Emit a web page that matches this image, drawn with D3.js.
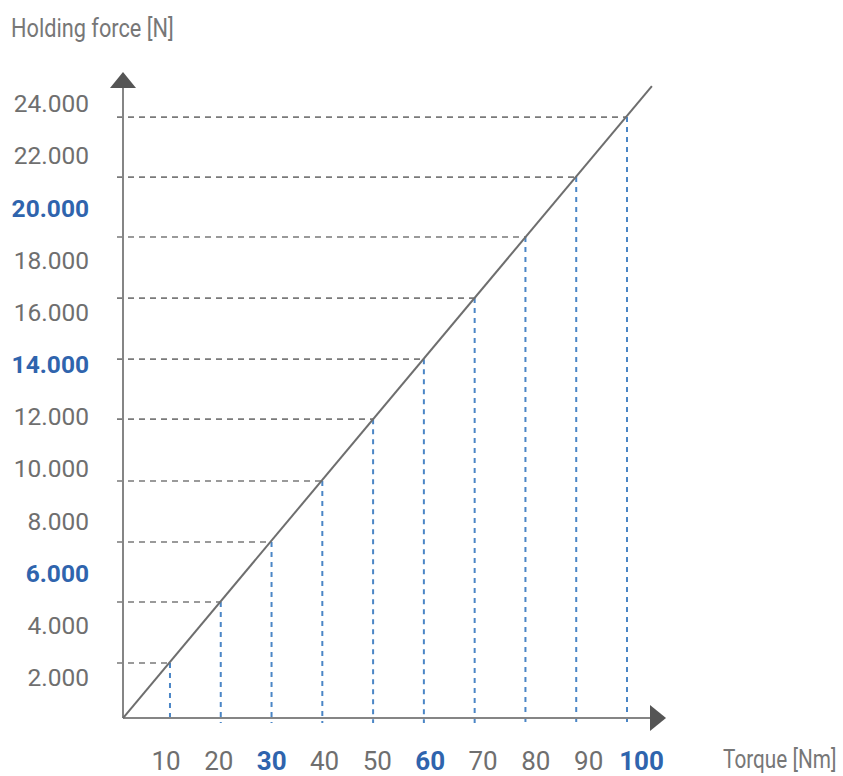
<!DOCTYPE html>
<html>
<head>
<meta charset="utf-8">
<script src="https://cdn.jsdelivr.net/npm/d3@7"></script>
<style>
  html, body { margin: 0; padding: 0; background: #fff; }
  text { font-family: Roboto, 'Noto Sans', sans-serif; }
</style>
</head>
<body>
<div id="container"></div>
<script>
'use strict';

const w = 843;
const h = 776;

// Data.
const torque = [10, 20, 30, 40, 50, 60, 70, 80, 90, 100];
const force = [2530, 4870, 7170, 9510, 11880, 14180, 16520, 18860, 21160, 23460];
const trendTorque = [0.75, 104.9];
const trendForce = [420, 24650];
const forceTicks = [2000, 4000, 6000, 8000, 10000, 12000, 14000, 16000, 18000, 20000, 22000, 24000];
const torqueTicks = [10, 20, 30, 40, 50, 60, 70, 80, 90, 100];
const boldForce = [6000, 14000, 20000];
const boldTorque = [30, 60, 100];

const grey = '#6f6f6f';
const blue = '#2f64ad';

const originX = 123;
const originY = 718;

const svg = d3.select('#container')
    .append('svg')
    .attr('width', w)
    .attr('height', h);

// Scales: marks and labels sit on slightly different grids in the original.
const xScale = d3.scaleLinear().domain([0, 100]).range([119.2, 627]);
const yScale = d3.scaleLinear().domain([0, 24000]).range([729, 103]);
const xLabelScale = d3.scaleLinear().domain([10, 100]).range([165.5, 641]);

const de = d3.formatLocale({ decimal: ',', thousands: '.', grouping: [3], currency: ['', ''] });

// Dashed guides.
const points = torque.map((t, i) => ({ t: t, f: force[i] }));

svg.selectAll('.hguide')
    .data(points)
    .enter()
    .append('line')
    .attr('class', 'hguide')
    .attr('x1', originX - 6)
    .attr('x2', d => xScale(d.t))
    .attr('y1', d => yScale(d.f))
    .attr('y2', d => yScale(d.f))
    .attr('stroke', '#7a7a7a')
    .attr('stroke-width', 1.6)
    .attr('stroke-dasharray', '6,5');

svg.selectAll('.vguide')
    .data(points)
    .enter()
    .append('line')
    .attr('class', 'vguide')
    .attr('x1', d => xScale(d.t))
    .attr('x2', d => xScale(d.t))
    .attr('y1', d => yScale(d.f))
    .attr('y2', originY + 5)
    .attr('stroke', '#4b86c6')
    .attr('stroke-width', 2)
    .attr('stroke-dasharray', '5,5');

// Axes lines and arrows.
svg.append('line')
    .attr('x1', originX).attr('x2', originX)
    .attr('y1', originY).attr('y2', 86)
    .attr('stroke', '#858585').attr('stroke-width', 2);
svg.append('line')
    .attr('x1', originX).attr('x2', 652)
    .attr('y1', originY).attr('y2', originY)
    .attr('stroke', '#858585').attr('stroke-width', 2);
svg.append('path')
    .attr('d', 'M' + originX + ',72 L' + (originX + 13) + ',88 L' + (originX - 13) + ',88 Z')
    .attr('fill', '#555');
svg.append('path')
    .attr('d', 'M666,' + originY + ' L650,' + (originY - 13) + ' L650,' + (originY + 13) + ' Z')
    .attr('fill', '#555');

// Trend line.
const line = d3.line()
    .x(d => xScale(d[0]))
    .y(d => yScale(d[1]));
svg.append('path')
    .datum(trendTorque.map((t, i) => [t, trendForce[i]]))
    .attr('d', line)
    .attr('fill', 'none')
    .attr('stroke', '#6e6e6e')
    .attr('stroke-width', 2);

// Y tick labels.
const yAxis = d3.axisLeft(yScale)
    .tickValues(forceTicks)
    .tickSize(0)
    .tickPadding(34)
    .tickFormat(de.format(',d'));
const gy = svg.append('g')
    .attr('transform', 'translate(' + originX + ',0)')
    .call(yAxis);
gy.select('.domain').remove();
gy.selectAll('text')
    .attr('dy', '0.36em')
    .style('font-family', 'Roboto, sans-serif')
    .style('font-size', '24.5px')
    .style('font-weight', d => boldForce.includes(d) ? 700 : 400)
    .attr('fill', d => boldForce.includes(d) ? blue : grey);

// X tick labels.
const xAxis = d3.axisBottom(xLabelScale)
    .tickValues(torqueTicks)
    .tickSize(0)
    .tickPadding(34);
const gx = svg.append('g')
    .attr('transform', 'translate(0,' + originY + ')')
    .call(xAxis);
gx.select('.domain').remove();
gx.selectAll('text')
    .style('font-family', 'Roboto, sans-serif')
    .style('font-size', '26px')
    .style('font-weight', d => boldTorque.includes(d) ? 700 : 400)
    .attr('fill', d => boldTorque.includes(d) ? blue : grey);

// Axis titles.
svg.append('text')
    .attr('transform', 'translate(11,36.5) scale(0.87,1)')
    .style('font-size', '25px')
    .attr('fill', '#777')
    .text('Holding force [N]');

svg.append('text')
    .attr('transform', 'translate(723,768) scale(0.83,1)')
    .style('font-size', '25px')
    .attr('fill', '#777')
    .text('Torque [Nm]');
</script>
</body>
</html>
